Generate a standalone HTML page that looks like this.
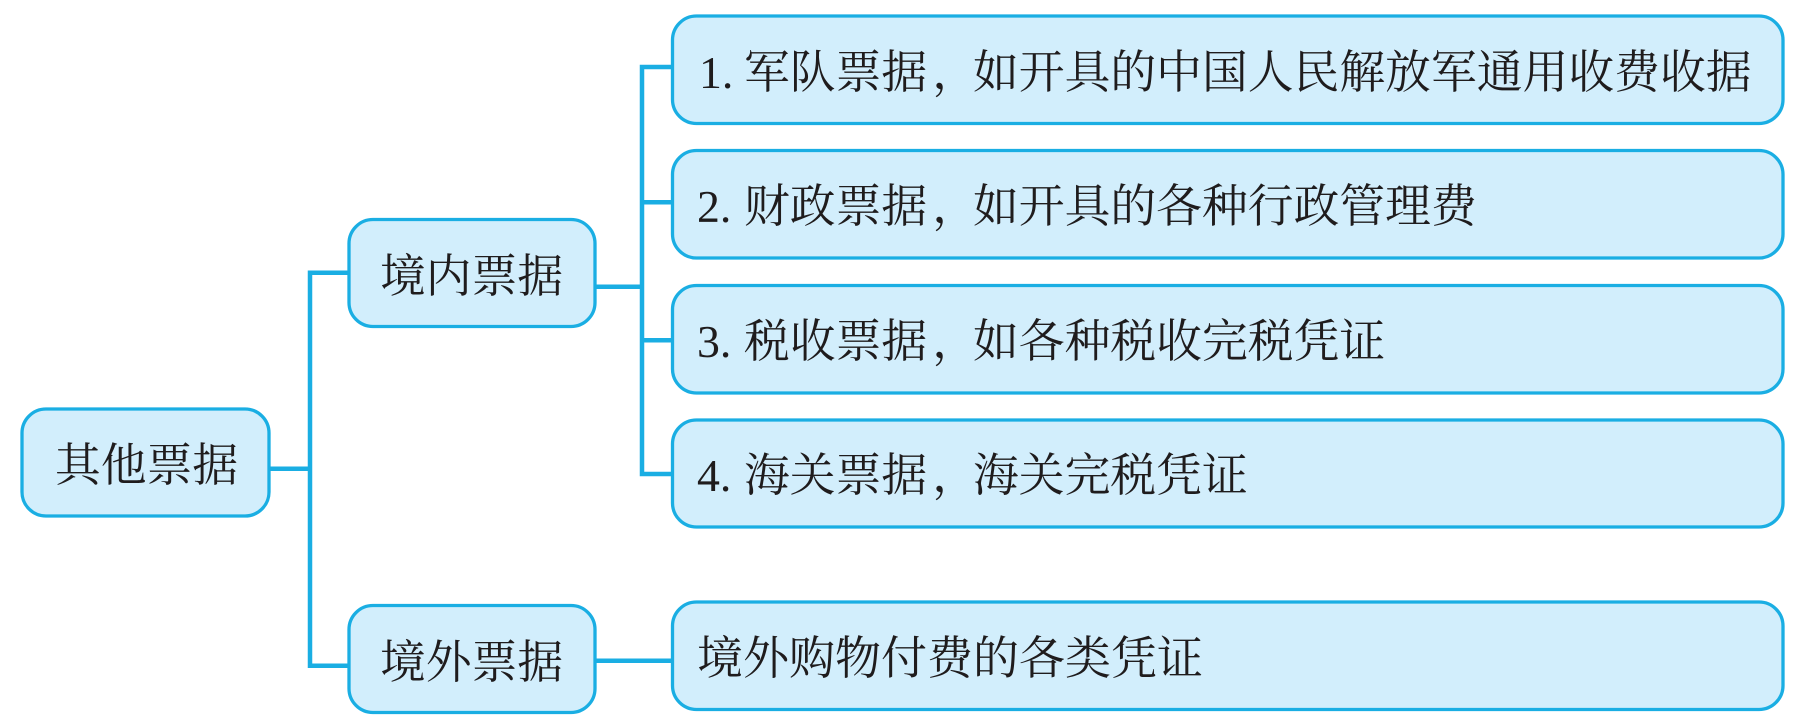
<!DOCTYPE html>
<html lang="zh">
<head>
<meta charset="utf-8">
<title>其他票据</title>
<style>
html,body{margin:0;padding:0;background:#fff;width:1812px;height:724px;overflow:hidden}
svg{display:block}
text{font-family:"Liberation Serif","Noto Serif CJK SC",serif;font-size:46px;fill:#1f1c1d}
text.r{font-size:45.8px}
.b{fill:#d2eefc;stroke:#1aaee3;stroke-width:3.3}
.l{fill:none;stroke:#1aaee3;stroke-width:4.5}
</style>
</head>
<body>
<svg width="1812" height="724" viewBox="0 0 1812 724" xmlns="http://www.w3.org/2000/svg">
<path class="l" d="M270 468.7H310M348 272.7H310V665.7H348"/>
<path class="l" d="M596 286.7H642M671 67H642V474H671M642 202.3H671M642 340.3H671M596 660.7H671"/>

<rect class="b" x="22" y="409" width="247" height="107" rx="24" ry="24"/>
<rect class="b" x="349" y="219.5" width="246" height="107" rx="24" ry="24"/>
<rect class="b" x="349" y="605.5" width="246" height="107" rx="24" ry="24"/>
<rect class="b" x="672.5" y="16" width="1110.5" height="107.5" rx="24" ry="24"/>
<rect class="b" x="672.5" y="150.5" width="1110.5" height="107.5" rx="24" ry="24"/>
<rect class="b" x="672.5" y="285.5" width="1110.5" height="107.5" rx="24" ry="24"/>
<rect class="b" x="672.5" y="420" width="1110.5" height="107" rx="24" ry="24"/>
<rect class="b" x="672.5" y="602" width="1110.5" height="107.5" rx="24" ry="24"/>

<text class="r" x="55" y="481">其他票据</text>
<text class="r" x="380" y="292">境内票据</text>
<text class="r" x="380" y="678">境外票据</text>

<text class="r" x="699" y="88">1.</text><text class="r" x="744" y="88">军队票据<tspan dx="5">，</tspan><tspan dx="-5">如</tspan>开具的中国人民解放军通用收费收据</text>
<text class="r" x="697" y="222">2.</text><text class="r" x="744" y="222">财政票据<tspan dx="5">，</tspan><tspan dx="-5">如</tspan>开具的各种行政管理费</text>
<text class="r" x="697" y="357">3.</text><text class="r" x="744" y="357">税收票据<tspan dx="5">，</tspan><tspan dx="-5">如</tspan>各种税收完税凭证</text>
<text class="r" x="697" y="491">4.</text><text class="r" x="744" y="491">海关票据<tspan dx="5">，</tspan><tspan dx="-5">海</tspan>关完税凭证</text>
<text x="697" y="674">境外购物付费的各类凭证</text>
</svg>
</body>
</html>
